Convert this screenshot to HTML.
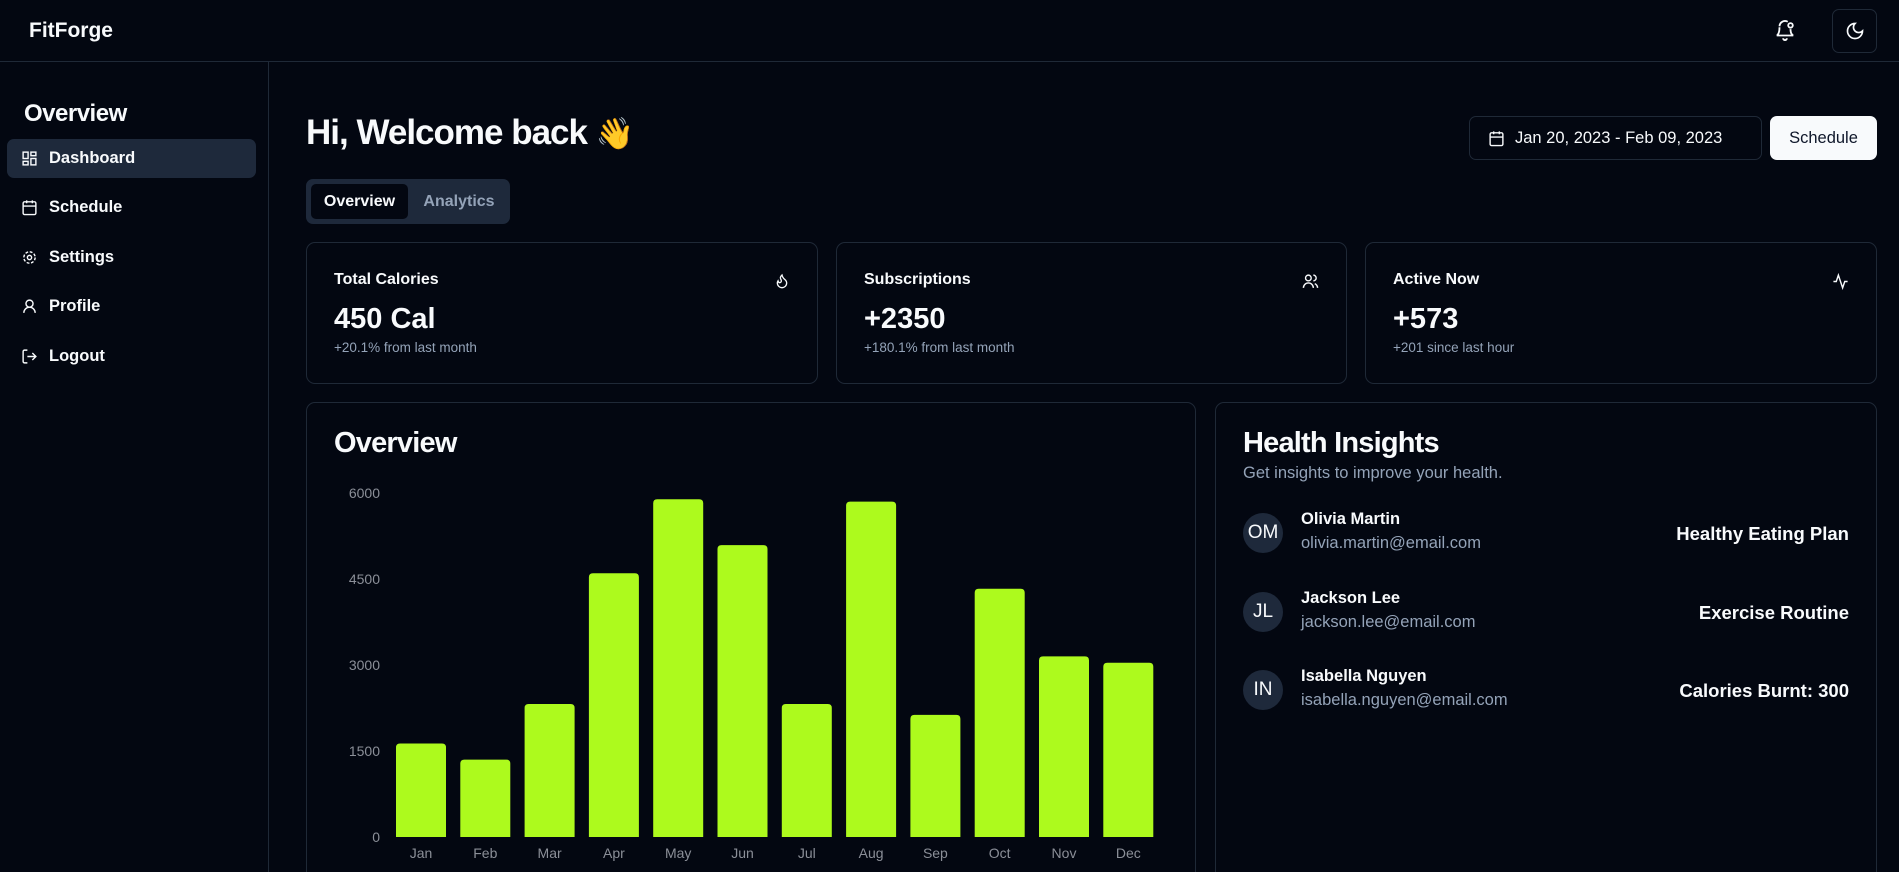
<!DOCTYPE html>
<html><head><meta charset="utf-8">
<style>
*{box-sizing:border-box;margin:0;padding:0}
html,body{width:1899px;height:872px;overflow:hidden}
body{background:#030711;color:#f8fafc;font-family:"Liberation Sans",sans-serif;position:relative}
#root{position:absolute;left:0;top:0;width:1899px;height:872px;overflow:hidden}
.abs{position:absolute}
.card{position:absolute;border:1px solid #1f2937;border-radius:9px}
.nav{position:absolute;left:7px;width:249px;height:39px;border-radius:7px;display:flex;align-items:center;padding-left:14px;font-size:16.5px;font-weight:bold}
.nav svg{margin-right:11px}
.ct{position:absolute;left:27px;top:28px;font-size:16px;font-weight:bold}
.cv{position:absolute;left:27px;top:60px;font-size:29px;font-weight:bold}
.cs{position:absolute;left:27px;top:97px;font-size:13.5px;color:#94a3b8}
.ci{position:absolute;right:27px;top:30px}
.av{position:absolute;left:27px;width:40px;height:40px;border-radius:50%;background:#1e293b;font-size:19px;display:flex;align-items:center;justify-content:center}
.nm{position:absolute;left:85px;font-size:16.5px;font-weight:bold}
.em{position:absolute;left:85px;font-size:16.5px;color:#94a3b8}
.rt{position:absolute;right:27px;font-size:18.5px;font-weight:bold}
</style></head><body><div id="root">
<div class="abs" style="left:0;top:0;width:1899px;height:62px;border-bottom:1px solid #1f2937"></div>
<div class="abs" style="left:29px;top:19px;font-size:21px;font-weight:bold">FitForge</div>
<svg class="abs" style="left:1774px;top:19px" width="22" height="22" viewBox="0 0 24 24" fill="none" stroke="#f8fafc" stroke-width="2"><path d="M6 8a6 6 0 0 1 9-5M18 11c0 6 3 7 3 7H3s3-1 3-9"/><path d="M10 21a2 2 0 0 0 4 0"/><circle cx="18" cy="7" r="2.5"/></svg>
<div class="abs" style="left:1832px;top:9px;width:45px;height:44px;border:1px solid #1f2937;border-radius:7px;display:flex;align-items:center;justify-content:center"><svg width="20" height="20" viewBox="0 0 24 24" fill="none" stroke="#f8fafc" stroke-width="2"><path d="M12 3a6 6 0 0 0 9 9 9 9 0 1 1-9-9z"/></svg></div>

<div class="abs" style="left:0;top:62px;width:269px;height:810px;border-right:1px solid #1f2937"></div>
<div class="abs" style="left:24px;top:100px;font-size:24px;font-weight:bold;letter-spacing:-0.5px">Overview</div>
<div class="nav" style="top:139px;background:#1e293b"><svg width="17" height="17" viewBox="0 0 24 24" fill="none" stroke="#f8fafc" stroke-width="2"><rect x="3" y="3" width="7" height="9"/><rect x="14" y="3" width="7" height="5"/><rect x="14" y="12" width="7" height="9"/><rect x="3" y="16" width="7" height="5"/></svg>Dashboard</div>
<div class="nav" style="top:188px"><svg width="17" height="17" viewBox="0 0 24 24" fill="none" stroke="#f8fafc" stroke-width="2"><rect x="3" y="4" width="18" height="18" rx="2"/><path d="M16 2v4M8 2v4M3 10h18"/></svg>Schedule</div>
<div class="nav" style="top:238px"><svg width="17" height="17" viewBox="0 0 24 24" fill="none" stroke="#f8fafc" stroke-width="2"><circle cx="12" cy="12" r="3"/><circle cx="12" cy="12" r="8" stroke-dasharray="4 2.3"/></svg>Settings</div>
<div class="nav" style="top:287px"><svg width="17" height="17" viewBox="0 0 24 24" fill="none" stroke="#f8fafc" stroke-width="2"><circle cx="12" cy="8" r="5"/><path d="M20 21a8 8 0 0 0-16 0"/></svg>Profile</div>
<div class="nav" style="top:337px"><svg width="17" height="17" viewBox="0 0 24 24" fill="none" stroke="#f8fafc" stroke-width="2"><path d="M9 21H5a2 2 0 0 1-2-2V5a2 2 0 0 1 2-2h4M16 17l5-5-5-5M21 12H9"/></svg>Logout</div>

<div class="abs" style="left:306px;top:113px;font-size:35px;font-weight:bold;letter-spacing:-1px">Hi, Welcome back <span style="font-size:31px">👋</span></div>
<div class="abs" style="left:306px;top:179px;width:204px;height:45px;background:#1e293b;border-radius:7px"></div>
<div class="abs" style="left:311px;top:184px;width:97px;height:35px;background:#030711;border-radius:5px;font-size:16px;font-weight:bold;display:flex;align-items:center;justify-content:center">Overview</div>
<div class="abs" style="left:412px;top:184px;width:94px;height:35px;color:#94a3b8;font-size:16px;font-weight:bold;display:flex;align-items:center;justify-content:center">Analytics</div>
<div class="abs" style="left:1469px;top:116px;width:293px;height:44px;border:1px solid #1f2937;border-radius:7px;display:flex;align-items:center;padding-left:18px;font-size:16.5px"><svg width="17" height="17" viewBox="0 0 24 24" fill="none" stroke="#f8fafc" stroke-width="2" style="margin-right:10px"><rect x="3" y="4" width="18" height="18" rx="2"/><path d="M16 2v4M8 2v4M3 10h18"/></svg>Jan 20, 2023 - Feb 09, 2023</div>
<div class="abs" style="left:1770px;top:116px;width:107px;height:44px;background:#f8fafc;color:#0f172a;border-radius:7px;font-size:16.5px;display:flex;align-items:center;justify-content:center">Schedule</div>

<div class="card" style="left:306px;top:242px;width:512px;height:142px">
<div class="ct">Total Calories</div><div class="cv">450 Cal</div><div class="cs">+20.1% from last month</div>
<svg class="ci" width="16" height="16" viewBox="0 0 24 24" fill="none" stroke="#f8fafc" stroke-width="2"><path d="M8.5 14.5A2.5 2.5 0 0 0 11 12c0-1.4-.5-2-1-3-1-2.1-.2-4 2-6 .5 2.5 2 4.9 4 6.5 2 1.6 3 3.5 3 5.5a7 7 0 1 1-14 0c0-1.2.4-2.3 1-3.3.4 1.6 1.200 2.8 2.5 2.8z"/></svg></div>
<div class="card" style="left:836px;top:242px;width:511px;height:142px">
<div class="ct">Subscriptions</div><div class="cv">+2350</div><div class="cs">+180.1% from last month</div>
<svg class="ci" width="17" height="17" viewBox="0 0 24 24" fill="none" stroke="#f8fafc" stroke-width="2"><circle cx="9" cy="7" r="4"/><path d="M2 21a7 7 0 0 1 14 0M16 3a4 4 0 0 1 0 8M22 21a7 7 0 0 0-4-6"/></svg></div>
<div class="card" style="left:1365px;top:242px;width:512px;height:142px">
<div class="ct">Active Now</div><div class="cv">+573</div><div class="cs">+201 since last hour</div>
<svg class="ci" width="17" height="17" viewBox="0 0 24 24" fill="none" stroke="#f8fafc" stroke-width="2"><path d="M22 12h-4l-3 9L9 3l-3 9H2"/></svg></div>

<div class="card" style="left:306px;top:402px;width:890px;height:500px">
<div class="abs" style="left:27px;top:24px;font-size:29px;font-weight:bold;letter-spacing:-0.8px">Overview</div>
</div>
<svg class="abs" id="chart" style="left:0;top:0" width="1899" height="872"></svg>

<div class="card" style="left:1215px;top:402px;width:662px;height:500px">
<div class="abs" style="left:27px;top:24px;font-size:29px;font-weight:bold;letter-spacing:-0.8px">Health Insights</div>
<div class="abs" style="left:27px;top:61px;font-size:16.5px;color:#94a3b8">Get insights to improve your health.</div>
<div class="av" style="top:110px">OM</div>
<div class="nm" style="top:107px">Olivia Martin</div>
<div class="em" style="top:131px">olivia.martin@email.com</div>
<div class="rt" style="top:120px">Healthy Eating Plan</div>
<div class="av" style="top:189px">JL</div>
<div class="nm" style="top:186px">Jackson Lee</div>
<div class="em" style="top:210px">jackson.lee@email.com</div>
<div class="rt" style="top:199px">Exercise Routine</div>
<div class="av" style="top:267px">IN</div>
<div class="nm" style="top:264px">Isabella Nguyen</div>
<div class="em" style="top:288px">isabella.nguyen@email.com</div>
<div class="rt" style="top:277px">Calories Burnt: 300</div>
</div>
</div>
<script>
const months=["Jan","Feb","Mar","Apr","May","Jun","Jul","Aug","Sep","Oct","Nov","Dec"];
const values=[1630,1350,2320,4600,5890,5090,2320,5850,2130,4330,3150,3040];
const yTicks=[0,1500,3000,4500,6000];
const svg=document.getElementById('chart');
const NS='http://www.w3.org/2000/svg';
const y0=837,y1=493,yMax=6000,x0=396,step=64.3,bw=50;
const y=v=>y0-(v/yMax)*(y0-y1);
const x=i=>x0+i*step;
yTicks.forEach(t=>{
  const tx=document.createElementNS(NS,'text');
  
  
  tx.setAttribute('x',380);tx.setAttribute('y',y(t)+5);
  tx.setAttribute('text-anchor','end');tx.setAttribute('fill','#8b8f98');
  tx.setAttribute('font-size','14');tx.setAttribute('font-family','Liberation Sans, sans-serif');
  tx.textContent=t;svg.appendChild(tx);
});
values.forEach((v,i)=>{
  const r=document.createElementNS(NS,'path');
  
  
  const top=y(v),l=x(i),rr=4;
  r.setAttribute('d',`M${l},${y0}V${top+rr}Q${l},${top} ${l+rr},${top}H${l+bw-rr}Q${l+bw},${top} ${l+bw},${top+rr}V${y0}Z`);
  r.setAttribute('fill','#adfa1d');svg.appendChild(r);
  const tx=document.createElementNS(NS,'text');
  
  
  tx.setAttribute('x',l+bw/2);tx.setAttribute('y',858);
  tx.setAttribute('text-anchor','middle');tx.setAttribute('fill','#8b8f98');
  tx.setAttribute('font-size','14');tx.setAttribute('font-family','Liberation Sans, sans-serif');
  tx.textContent=months[i];svg.appendChild(tx);
});
</script>
</body></html>
